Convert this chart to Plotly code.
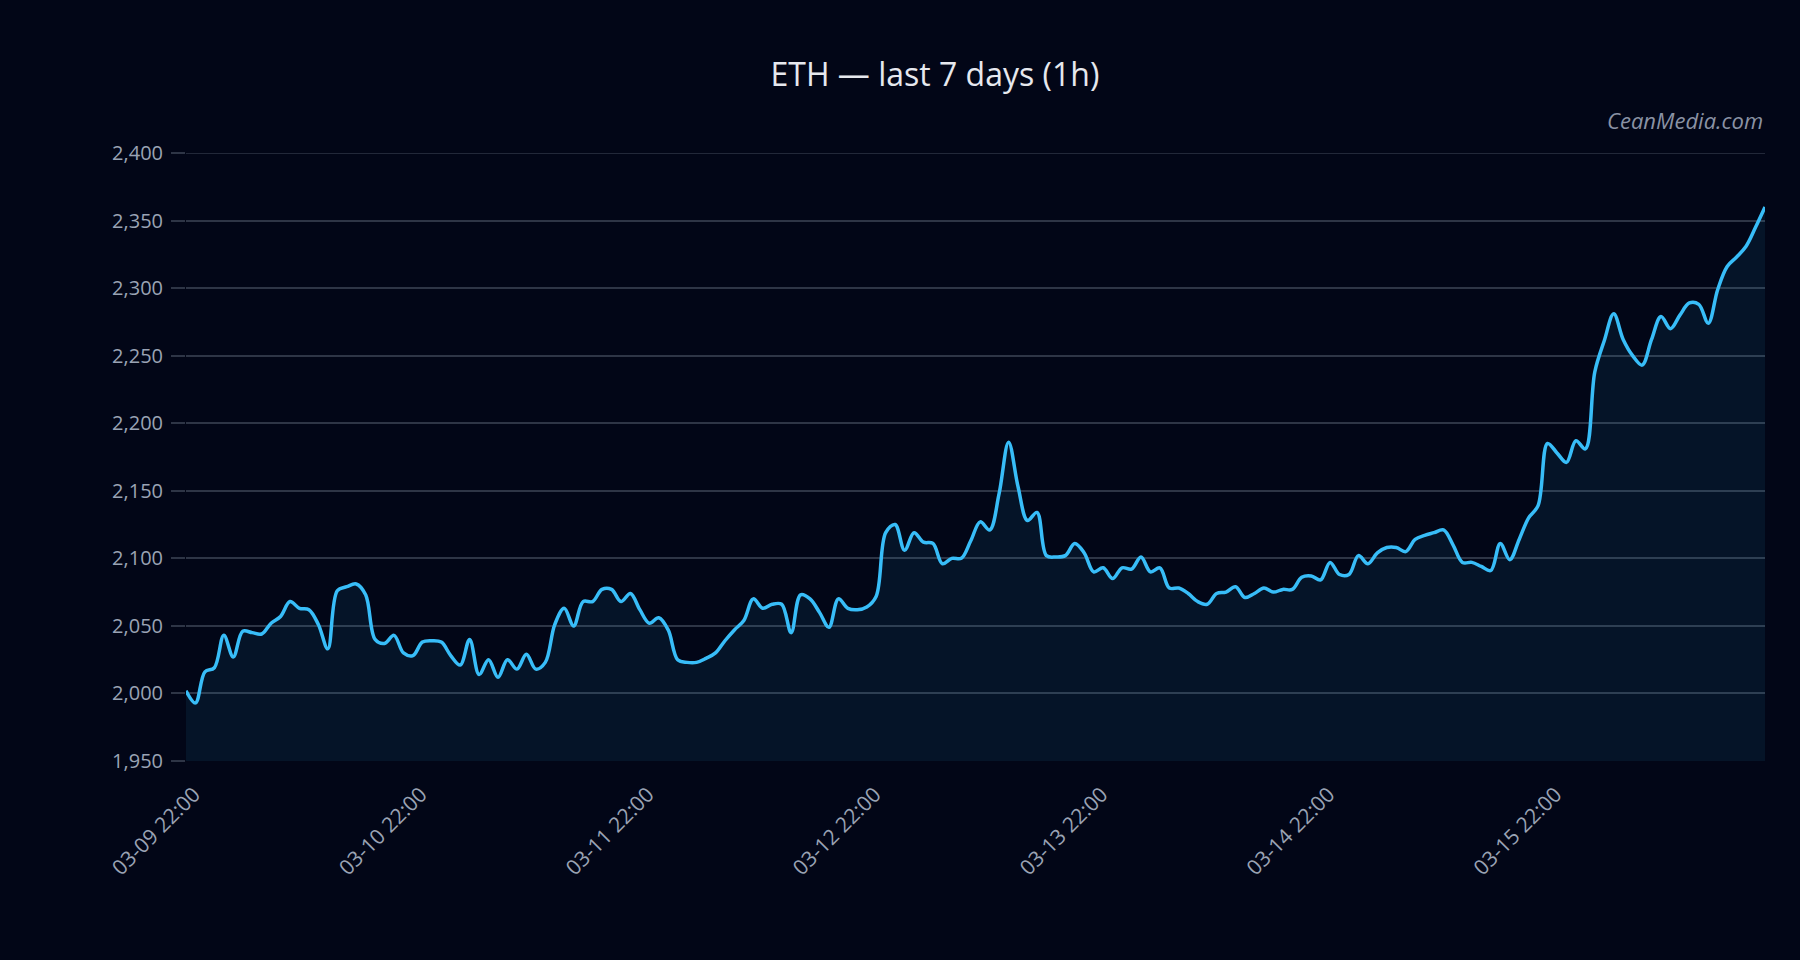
import pandas as pd
import plotly.graph_objects as go

# ---- data (ETH hourly closes) ----
start_time = "2025-03-09 22:00"
prices = [
    2002, 1993, 2016, 2019, 2043, 2027, 2046, 2045, 2044, 2052,
    2057, 2068, 2063, 2062, 2051, 2033, 2076, 2079, 2081, 2073,
    2040, 2037, 2043, 2030, 2028, 2038, 2039, 2038, 2028, 2021,
    2040, 2014, 2025, 2012, 2025, 2018, 2029, 2018, 2023, 2051,
    2063, 2050, 2068, 2068, 2077, 2077, 2068, 2074, 2062, 2052,
    2056, 2047, 2025, 2023, 2023, 2026, 2030, 2039, 2047, 2054,
    2070, 2063, 2066, 2066, 2045, 2073, 2070, 2060, 2049, 2070,
    2063, 2062, 2064, 2072, 2119, 2125, 2106, 2119, 2112, 2111,
    2096, 2100, 2100, 2113, 2127, 2121, 2148, 2186, 2153, 2128,
    2134, 2102, 2101, 2102, 2111, 2104, 2090, 2093, 2085, 2093,
    2092, 2101, 2090, 2093, 2078, 2078, 2074, 2068, 2066, 2074,
    2075, 2079, 2071, 2074, 2078, 2075, 2077, 2077, 2086, 2087,
    2084, 2097, 2088, 2088, 2102, 2096, 2104, 2108, 2108, 2105,
    2114, 2117, 2119, 2121, 2110, 2097, 2097, 2094, 2091, 2111,
    2099, 2114, 2130, 2139, 2185, 2178, 2171, 2187, 2181, 2238,
    2261, 2281, 2262, 2250, 2243, 2262, 2279, 2270, 2280, 2289,
    2288, 2274, 2299, 2316, 2323, 2331, 2345, 2360,
]
times = pd.date_range(start=start_time, periods=len(prices), freq="h")

title_text = "ETH — last 7 days (1h)"
watermark = "CeanMedia.com"
y_range = [1950, 2400]
y_dtick = 50

# ---- styles ----
BG = "#020617"
LINE = "#38bdf8"
FILL = "rgba(56,189,248,0.08)"
GRID = "#2e3546"
TICK = "#9aa3b4"
FONT = "Open Sans"

fig = go.Figure()
fig.add_trace(go.Scatter(
    x=times, y=prices, mode="lines",
    line=dict(color=LINE, width=3.5, shape="spline"),
    fill="tozeroy", fillcolor=FILL,
    hoverinfo="skip", showlegend=False,
))

fig.update_layout(
    width=1800, height=960,
    paper_bgcolor=BG, plot_bgcolor=BG,
    margin=dict(l=186, r=35, t=153, b=199),
    font=dict(family=FONT, color=TICK, size=20),
    title=dict(
        text=title_text, x=0.5194, xref="container", xanchor="center",
        y=1 - 75 / 960, yref="container", yanchor="middle",
        font=dict(family=FONT, size=32, color="#e6e8ee"),
    ),
    xaxis=dict(
        range=[times[0], times[-1]],
        tick0=times[0], dtick=24 * 3600 * 1000,
        tickformat="%m-%d %H:%M", tickangle=-45,
        showgrid=False, zeroline=False, showline=False,
        ticks="", ticklabelstandoff=16, ticklabelshift=8,
        tickfont=dict(size=21, color=TICK),
    ),
    yaxis=dict(
        range=y_range, dtick=y_dtick, tickformat=",",
        showgrid=True, gridcolor=GRID, gridwidth=1.5,
        zeroline=False, showline=False,
        ticks="outside", ticklen=14, tickcolor=GRID, tickwidth=1.5,
        ticklabelstandoff=4,
        tickfont=dict(size=20, color=TICK),
    ),
    annotations=[dict(
        text="<i>" + watermark + "</i>", xref="paper", yref="paper",
        x=1, y=1 + (152.7 - 120) / 608.3, xanchor="right", yanchor="middle",
        showarrow=False,
        font=dict(family=FONT, size=22, color="#8a92a4"),
    )],
    shapes=[dict(
        type="line", xref="paper", yref="y", x0=0, x1=1,
        y0=y_range[1], y1=y_range[1],
        line=dict(color=GRID, width=1.5), layer="below",
    )],
)

fig.write_html("out.html")
